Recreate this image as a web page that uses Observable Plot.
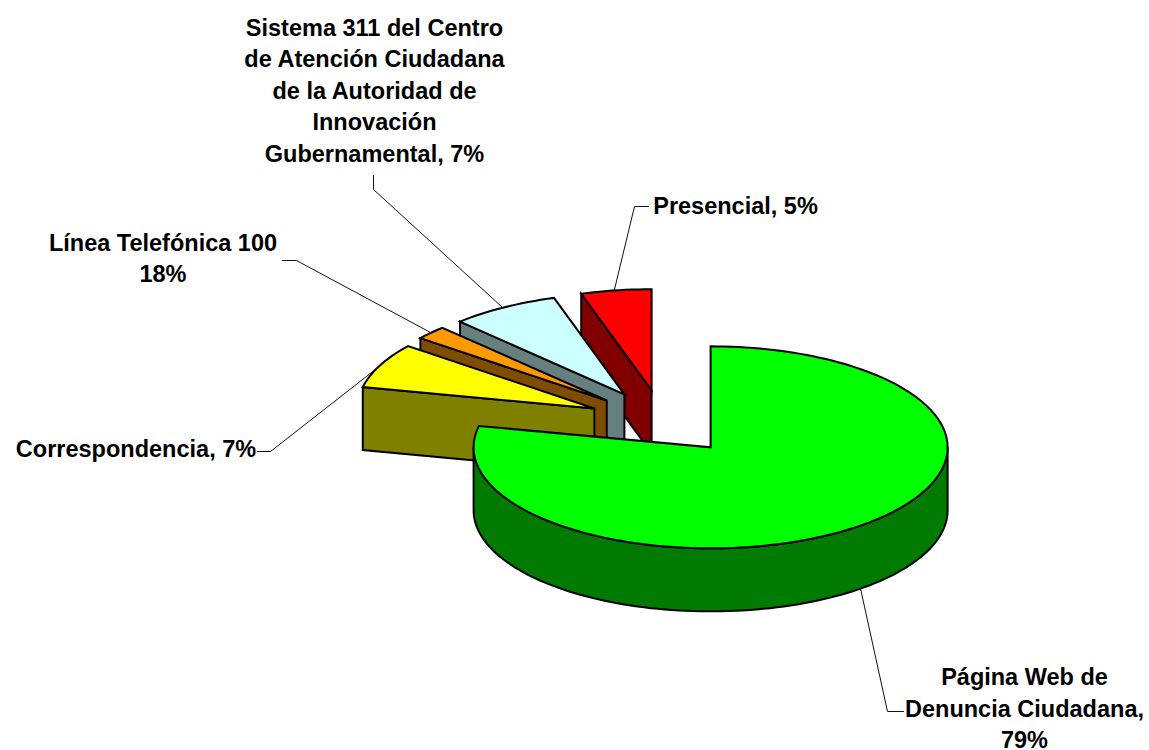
<!DOCTYPE html>
<html>
<head>
<meta charset="utf-8">
<script src="https://cdn.jsdelivr.net/npm/d3@7"></script>
<script src="https://cdn.jsdelivr.net/npm/@observablehq/plot@0.6"></script>
<style>html,body{margin:0;padding:0;background:#fff}svg{display:block}</style>
</head>
<body>
<div id="chart"></div>
<script>
// Slices, clockwise from 12 o'clock
const names = ["Página Web de Denuncia Ciudadana", "Correspondencia", "Línea Telefónica 100", "Sistema 311", "Presencial"];
const shares = [78.4, 7.2, 2.2, 7.4, 4.8];
const topColors = ["#00ff00", "#ffff00", "#ff9900", "#ccffff", "#ff0000"];
const wallColors = ["#007a00", "#808000", "#804d00", "#668080", "#800000"];
const labelTexts = [
  "Página Web de\nDenuncia Ciudadana,\n79%",
  "Correspondencia, 7%",
  "Línea Telefónica 100\n18%",
  "Sistema 311 del Centro\nde Atención Ciudadana\nde la Autoridad de\nInnovación\nGubernamental, 7%",
  "Presencial, 5%"
];

// Page layout (pixels) kept apart from the data
const W = 1149, H = 750;
const cx = 662.5, cy = 421.7, rx = 237, ry = 101;
const explode = 0.32, depth = 0.624;
const U = (px) => (px - cx) / rx;
const V = (py) => (cy - py) / ry;
const labelAt = [[1024, 706], [135.5, 446], [162.5, 256], [374, 88], [735, 203]];
const leaderAt = [
  [[860, 588], [887, 711], [903, 711]],
  [[380, 365], [270, 451], [257, 451]],
  [[430, 332], [296, 260], [282, 260]],
  [[502, 307], [373, 189], [373, 175]],
  [[613, 293], [634, 206], [648, 206]]
];

// Pie geometry in unit-circle coordinates
const polys = [];
const total = d3.sum(shares);
let acc = 0;
const slices = shares.map((s, i) => {
  const a0 = acc / total * 2 * Math.PI; acc += s;
  const a1 = acc / total * 2 * Math.PI;
  const mid = (a0 + a1) / 2;
  return {i, a0, a1, ox: explode * Math.sin(mid), oy: explode * Math.cos(mid)};
});
function push(id, color, pts) { pts.forEach(([u, v]) => polys.push({id, color, u, v})); }
function arc(s, a, b, dz = 0) {
  const n = Math.max(2, Math.ceil(Math.abs(b - a) / 0.03));
  return d3.range(n + 1).map(k => {
    const t = a + (b - a) * k / n;
    return [s.ox + Math.sin(t), s.oy + Math.cos(t) - dz];
  });
}
// back to front: red, cyan, orange, yellow, green
[4, 3, 2, 1, 0].forEach(i => {
  const s = slices[i];
  if (i === 0) {
    const a = Math.PI / 2, b = 3 * Math.PI / 2;
    push("w" + i, wallColors[i], [...arc(s, a, b), ...arc(s, b, a, depth)]);
  } else {
    const e = arc(s, s.a0, s.a0)[0];
    push("w" + i, wallColors[i], [
      [s.ox, s.oy], e, [e[0], e[1] - depth], [s.ox, s.oy - depth]
    ]);
  }
  push("t" + i, topColors[i], [[s.ox, s.oy], ...arc(s, s.a0, s.a1)]);
});

const leaders = leaderAt.flatMap((pts, i) => pts.map(([x, y]) => ({i, u: U(x), v: V(y)})));
const labels = labelTexts.map((t, i) => ({t, u: U(labelAt[i][0]), v: V(labelAt[i][1])}));

const chart = Plot.plot({
  width: W, height: H,
  marginTop: 0, marginRight: 0, marginBottom: 0, marginLeft: 0,
  style: {background: "#fff"},
  x: {axis: null, domain: [U(0), U(W)], range: [0, W]},
  y: {axis: null, domain: [V(0), V(H)], range: [0, H]},
  color: {type: "identity"},
  marks: [
    Plot.line(leaders, {x: "u", y: "v", z: "i", stroke: "#111", strokeWidth: 1, curve: "linear"}),
    Plot.line(polys, {x: "u", y: "v", z: "id", fill: "color", stroke: "#000", strokeWidth: 2,
      curve: "linear-closed", strokeLinejoin: "miter", strokeMiterlimit: 4}),
    Plot.text(labels, {x: "u", y: "v", text: "t", fill: "#000", fontSize: 23.5, fontWeight: "bold",
      fontFamily: "Liberation Sans", lineHeight: 1.34, textAnchor: "middle"})
  ]
});
document.getElementById("chart").append(chart);
</script>
</body>
</html>
